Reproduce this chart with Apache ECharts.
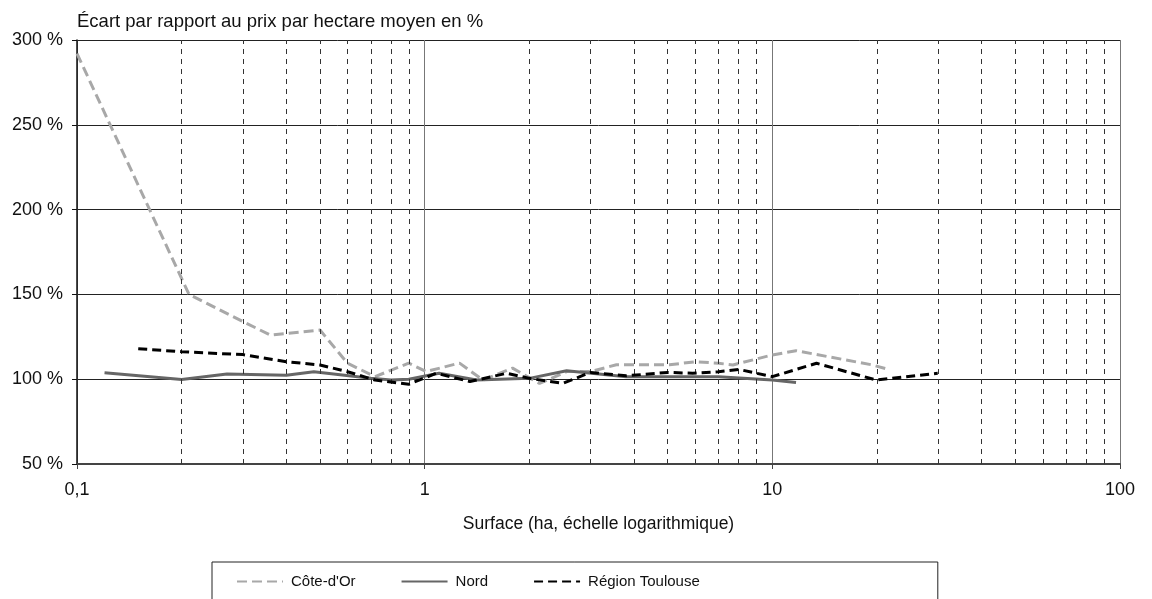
<!DOCTYPE html>
<html>
<head>
<meta charset="utf-8">
<script src="https://cdn.jsdelivr.net/npm/echarts@6/dist/echarts.min.js"></script>
<style>
html,body{margin:0;padding:0;background:#fff;}
#chart{width:1152px;height:599px;}
</style>
</head>
<body>
<div id="chart"></div>
<script>
// Data (x: surface in ha, y: % of mean price per hectare)
const coteDOr = [
  [0.1, 292], [0.21, 150], [0.3, 134], [0.36, 126], [0.5, 129], [0.6, 109.4],
  [0.72, 101.5], [0.9, 109.5], [1.01, 104.5], [1.26, 109.5], [1.47, 99.5],
  [1.79, 106.5], [2.14, 97.5], [2.56, 104.5], [3.0, 104.5], [3.56, 108.5], [5.06, 108.5],
  [6.0, 110.3], [7.0, 109.4], [7.7, 108.4], [10, 114.3], [11.7, 116.8], [19.4, 108.4], [21.8, 105.5]
];
const nord = [
  [0.12, 103.8], [0.2, 99.8], [0.27, 103], [0.4, 102.3], [0.48, 104.4], [0.7, 100.5],
  [0.8, 99.5], [0.9, 100], [1.1, 103.5], [1.41, 99.5], [2.0, 100.5], [2.56, 105],
  [3.8, 101.5], [7.0, 101.5], [10, 99.5], [11.7, 98]
];
const toulouse = [
  [0.15, 118], [0.2, 116.2], [0.3, 114.5], [0.4, 110.3], [0.5, 108.4], [0.6, 104.4],
  [0.72, 99.5], [0.9, 97], [1.08, 103.5], [1.35, 98.6], [1.72, 103.5], [2.0, 100.5],
  [2.5, 97.6], [3.0, 104], [3.8, 102], [5.0, 104], [5.9, 103.5], [7.0, 104.4],
  [8.0, 105.8], [10, 101.5], [13.4, 109.4], [19.9, 99.5], [29.9, 103.5]
];
const minorGrid = [0.2, 0.3, 0.4, 0.5, 0.6, 0.7, 0.8, 0.9, 2, 3, 4, 5, 6, 7, 8, 9, 20, 30, 40, 50, 60, 70, 80, 90];
const seriesNames = ["Côte-d'Or", "Nord", "Région Toulouse"];
const yTitle = "Écart par rapport au prix par hectare moyen en %";
const xTitle = "Surface (ha, échelle logarithmique)";

const FONT = "'Liberation Sans', Arial, sans-serif";
const chart = echarts.init(document.getElementById('chart'), null, {renderer: 'canvas'});
chart.setOption({
  animation: false,
  backgroundColor: '#fff',
  textStyle: {fontFamily: FONT},
  grid: {left: 77, right: 32, top: 40, bottom: 135, containLabel: false},
  legend: {
    data: seriesNames,
    left: 212, top: 562,
    orient: 'horizontal',
    itemWidth: 46, itemHeight: 14, itemGap: 45,
    padding: [12, 238, 30, 24],
    borderColor: '#222', borderWidth: 1,
    itemStyle: {opacity: 0},
    textStyle: {fontFamily: FONT, fontSize: 15, color: '#111', padding: [0, 0, 0, 3]}
  },
  xAxis: {
    type: 'log', logBase: 10, min: 0.1, max: 100,
    name: xTitle, nameLocation: 'middle', nameGap: 51,
    nameTextStyle: {fontFamily: FONT, fontSize: 17.5, color: '#111'},
    axisLine: {show: true, lineStyle: {color: '#444', width: 2}},
    axisTick: {show: true, length: 5, lineStyle: {color: '#444'}},
    axisLabel: {fontFamily: FONT, fontSize: 18, color: '#111', margin: 17,
      formatter: v => String(v).replace('.', ',')},
    splitLine: {show: true, lineStyle: {color: '#777', width: 1}},
    minorTick: {show: false}, minorSplitLine: {show: false}
  },
  yAxis: {
    type: 'value', min: 50, max: 300, interval: 50,
    name: yTitle, nameLocation: 'end', nameGap: 9,
    nameTextStyle: {fontFamily: FONT, fontSize: 18.5, color: '#111', align: 'left'},
    axisLine: {show: true, lineStyle: {color: '#111', width: 1.5}},
    axisTick: {show: true, length: 5, lineStyle: {color: '#111'}},
    axisLabel: {fontFamily: FONT, fontSize: 18, color: '#111', margin: 14,
      formatter: '{value} %'},
    splitLine: {show: true, lineStyle: {color: '#222', width: 1}}
  },
  series: [
    {
      type: 'line', data: [], silent: true, z: 1,
      markLine: {
        silent: true, symbol: ['none', 'none'], label: {show: false},
        lineStyle: {color: '#333', width: 1, type: [5, 5]},
        emphasis: {disabled: true},
        data: minorGrid.map(v => ({xAxis: v}))
      }
    },
    {
      name: seriesNames[0], type: 'line', data: coteDOr, symbol: 'none', z: 3,
      lineStyle: {color: '#a8a8a8', width: 3, type: [10, 5]},
      itemStyle: {color: '#a8a8a8'}
    },
    {
      name: seriesNames[1], type: 'line', data: nord, symbol: 'none', z: 4,
      lineStyle: {color: '#666', width: 3, type: 'solid'},
      itemStyle: {color: '#666'}
    },
    {
      name: seriesNames[2], type: 'line', data: toulouse, symbol: 'none', z: 5,
      lineStyle: {color: '#000', width: 3, type: [9, 5]},
      itemStyle: {color: '#000'}
    }
  ]
});
</script>
</body>
</html>
